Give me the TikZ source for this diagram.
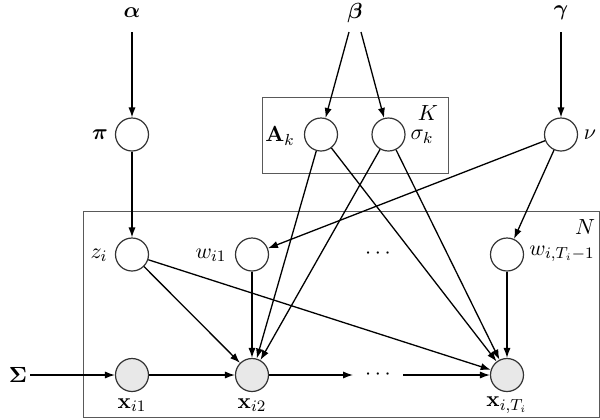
\documentclass[tikz,border=0pt]{standalone}
\usepackage{bm}
\usetikzlibrary{arrows.meta}
\begin{document}
\begin{tikzpicture}[x=0.5pt,y=-0.5pt,font=\fontsize{11}{13}\selectfont,
  latent/.style={circle,draw=black!80,line width=0.6pt,minimum size=16.5pt,inner sep=0pt},
  observed/.style={latent,fill=black!9},
  plate/.style={draw=black!65,line width=0.5pt},
  edge/.style={line width=0.65pt,-{Latex[length=5pt,width=3.6pt]}},
  lbl/.style={inner sep=0pt}]
\useasboundingbox (0,0) rectangle (600,419);
% plates
\draw[plate] (262,97) rectangle (448,173);
\draw[plate] (83,211) rectangle (599,417.5);
\node[lbl] (Klab) at (428,113) {$K$};
\node[lbl] (Nlab) at (585,227) {$N$};
% hyperparameters
\node[lbl] (alpha) at (132,13) {$\bm{\alpha}$};
\node[lbl] (beta) at (355,13) {$\bm{\beta}$};
\node[lbl] (gamma) at (561,13) {$\bm{\gamma}$};
\node[lbl] (Sigma) at (18,375) {$\bm{\Sigma}$};
\coordinate (alphaE) at (132,32);
\coordinate (betaL) at (349,32);
\coordinate (betaR) at (361,32);
\coordinate (gammaE) at (561,32);
\coordinate (SigmaE) at (30,375);
% latent nodes
\node[latent] (pi) at (132,134.5) {};
\node[lbl] (pilab) at (100,135) {$\bm{\pi}$};
\node[latent] (A) at (321,134.5) {};
\node[lbl] (Alab) at (280,136) {$\mathbf{A}_k$};
\node[latent] (sig) at (388.5,134.5) {};
\node[lbl] (siglab) at (422,137) {$\sigma_k$};
\node[latent] (nu) at (561,134.5) {};
\node[lbl] (nulab) at (590,135) {$\nu$};
\node[latent] (z) at (132,254.5) {};
\node[lbl] (zlab) at (99,255) {$z_i$};
\node[latent] (w1) at (252,254.5) {};
\node[lbl] (w1lab) at (211,255) {$w_{i1}$};
\node[lbl] (wdots) at (378,254) {$\cdots$};
\node[latent] (wT) at (507,254.5) {};
\node[lbl] (wTlab) at (562,254) {$w_{i,T_i-1}$};
% observed nodes
\node[observed] (x1) at (132,375) {};
\node[observed] (x2) at (252,375) {};
\node[lbl] (xdots) at (378,375) {$\cdots$};
\coordinate (xdW) at (353,375);
\coordinate (xdE) at (403,375);
\node[observed] (xT) at (507,375) {};
\node[lbl] (x1lab) at (132,405) {$\mathbf{x}_{i1}$};
\node[lbl] (x2lab) at (252,405) {$\mathbf{x}_{i2}$};
\node[lbl] (xTlab) at (507,405) {$\mathbf{x}_{i,T_i}$};
% edges
\draw[edge] (alphaE) -- (pi);
\draw[edge] (pi) -- (z);
\draw[edge] (betaL) -- (A);
\draw[edge] (betaR) -- (sig);
\draw[edge] (gammaE) -- (nu);
\draw[edge] (nu) -- (w1);
\draw[edge] (nu) -- (wT);
\draw[edge] (A) -- (x2);
\draw[edge] (A) -- (xT);
\draw[edge] (sig) -- (x2);
\draw[edge] (sig) -- (xT);
\draw[edge] (z) -- (x2);
\draw[edge] (z) -- (xT);
\draw[edge] (w1) -- (x2);
\draw[edge] (wT) -- (xT);
\draw[edge] (SigmaE) -- (x1);
\draw[edge] (x1) -- (x2);
\draw[edge] (x2) -- (xdW);
\draw[edge] (xdE) -- (xT);
\end{tikzpicture}
\end{document}
